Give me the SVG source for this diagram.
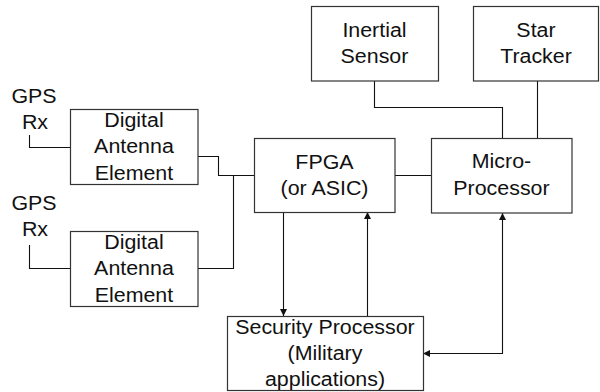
<svg xmlns="http://www.w3.org/2000/svg" width="600" height="392" viewBox="0 0 600 392">
  <style>
    .box { fill: #ffffff; stroke: #333333; stroke-width: 1.2; }
    .wire { fill: none; stroke: #111111; stroke-width: 1.1; }
    .t { font-family: "Liberation Sans", Arial, sans-serif; font-size: 20px; fill: #111111; text-anchor: middle;
         transform-box: fill-box; transform-origin: center; transform: scaleX(1.07); }
  </style>
  <defs>
    <marker id="arrow" viewBox="0 0 10 10" refX="10" refY="5" markerWidth="7" markerHeight="8" markerUnits="userSpaceOnUse" orient="auto-start-reverse">
      <path d="M0,0 L10,5 L0,10 Z" fill="#111111"/>
    </marker>
  </defs>

  <rect width="600" height="392" fill="#ffffff"/>

  <!-- connectors -->
  <g id="connectors">
    <!-- antenna inputs -->
    <path class="wire" d="M29.5,135 V147.5 H70"/>
    <path class="wire" d="M29.5,245 V268.5 H70"/>
    <!-- antenna elements to FPGA -->
    <path class="wire" d="M198,156.5 H218.5 V175.5 H254"/>
    <path class="wire" d="M198,268.5 H233.5 V175.5"/>
    <!-- FPGA to microprocessor -->
    <path class="wire" d="M395,175.5 H431"/>
    <!-- sensors to microprocessor -->
    <path class="wire" d="M374.5,81 V107.5 H502.5 V138"/>
    <path class="wire" d="M537.5,81 V138"/>
    <!-- security processor links -->
    <path class="wire" d="M283.5,212 V316" marker-end="url(#arrow)"/>
    <path class="wire" d="M367.5,316 V212" marker-end="url(#arrow)"/>
    <path class="wire" d="M423,353.5 H502.5 V213" marker-start="url(#arrow)" marker-end="url(#arrow)"/>
  </g>

  <!-- GPS receiver labels -->
  <g id="gps1">
    <text class="t" x="34" y="103">GPS</text>
    <text class="t" x="35" y="129">Rx</text>
  </g>
  <g id="gps2">
    <text class="t" x="34" y="210">GPS</text>
    <text class="t" x="35" y="236">Rx</text>
  </g>

  <g id="dae1">
    <rect class="box" x="70.5" y="109.5" width="127.5" height="75"/>
    <text class="t" x="134" y="127">Digital</text>
    <text class="t" x="134" y="153">Antenna</text>
    <text class="t" x="134" y="180">Element</text>
  </g>

  <g id="dae2">
    <rect class="box" x="70.5" y="231.5" width="127.5" height="75"/>
    <text class="t" x="134" y="249">Digital</text>
    <text class="t" x="134" y="275">Antenna</text>
    <text class="t" x="134" y="302">Element</text>
  </g>

  <g id="fpga">
    <rect class="box" x="254.5" y="138.5" width="140.5" height="74"/>
    <text class="t" x="324.5" y="169">FPGA</text>
    <text class="t" x="324.5" y="195">(or ASIC)</text>
  </g>

  <g id="micro">
    <rect class="box" x="431.5" y="138.5" width="140.5" height="74.5"/>
    <text class="t" x="501.5" y="168">Micro-</text>
    <text class="t" x="501.5" y="195">Processor</text>
  </g>

  <g id="inertial">
    <rect class="box" x="311.5" y="6.5" width="127" height="74.5"/>
    <text class="t" x="374.5" y="37">Inertial</text>
    <text class="t" x="374.5" y="63">Sensor</text>
  </g>

  <g id="star">
    <rect class="box" x="473.5" y="6.5" width="125" height="74.5"/>
    <text class="t" x="536" y="37">Star</text>
    <text class="t" x="536" y="63">Tracker</text>
  </g>

  <g id="security">
    <rect class="box" x="227.5" y="316.5" width="196" height="74"/>
    <text class="t" x="325" y="334">Security Processor</text>
    <text class="t" x="325" y="360">(Military</text>
    <text class="t" x="325" y="386">applications)</text>
  </g>
</svg>
